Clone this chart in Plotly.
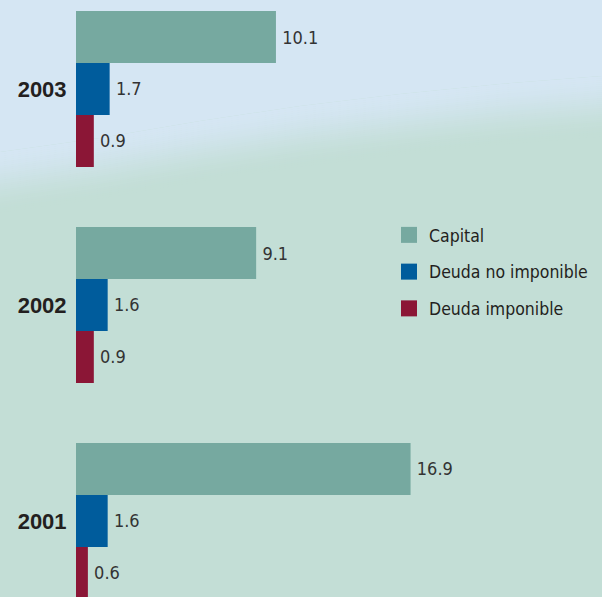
import plotly.graph_objects as go

# ---- data ----
years = ["2001", "2002", "2003"]
capital = [16.9, 9.1, 10.1]
deuda_no_imponible = [1.6, 1.6, 1.7]
deuda_imponible = [0.6, 0.9, 0.9]
series_names = ["Capital", "Deuda no imponible", "Deuda imponible"]
series_colors = ["#76a9a0", "#005c9c", "#8b1636"]

W, H = 602, 597
NARROW = "DejaVu Sans Condensed, Liberation Sans Narrow, Arial Narrow, sans-serif"

fig = go.Figure()
# bottom-to-top within each group: Deuda imponible, Deuda no imponible, Capital
for vals, name, col in [
    (deuda_imponible, series_names[2], series_colors[2]),
    (deuda_no_imponible, series_names[1], series_colors[1]),
    (capital, series_names[0], series_colors[0]),
]:
    fig.add_trace(go.Bar(
        y=years, x=vals, name=name, orientation="h",
        marker=dict(color=col, line=dict(width=0)),
        text=[f"\u2009{v:.1f}" for v in vals], textposition="outside",
        textfont=dict(family=NARROW, size=18, color="#333333"),
        cliponaxis=False, showlegend=False,
    ))

# legend entries (larger square swatches)
for rank, (name, col) in enumerate(zip(series_names, series_colors), start=1):
    fig.add_trace(go.Scatter(
        x=[None], y=[None], mode="markers", name=name, legendgroup=name, legendrank=rank,
        marker=dict(symbol="square", size=16, color=col, line=dict(width=0)),
        hoverinfo="skip",
    ))

# ---- background (decorative gradient, in pixel -> paper coords) ----
def px(x, y):
    return x / W, 1 - y / H

blue = (213, 230, 243)
green = (195, 222, 214)
cx = [0, 100, 200, 300, 400, 500, 602]
cy = [182, 168, 151, 136, 124, 114, 106]
half = 30
nb = 30
shapes = []
pts = [px(0, 0), px(W, 0)] + [px(x, y - half) for x, y in zip(cx[::-1], cy[::-1])]
path = "M " + " L ".join(f"{a:.5f},{b:.5f}" for a, b in pts) + " Z"
shapes.append(dict(type="path", path=path, xref="paper", yref="paper",
                   fillcolor=f"rgb{blue}", line=dict(width=0), layer="below"))
for i in range(nb):
    d0 = -half + 2 * half * i / nb
    d1 = -half + 2 * half * (i + 1) / nb + 0.6
    t = (i + 0.5) / nb
    t = t * t * (3 - 2 * t)
    c = tuple(round(b + (g - b) * t) for b, g in zip(blue, green))
    top = [px(x, y + d0) for x, y in zip(cx, cy)]
    bot = [px(x, y + d1) for x, y in zip(cx[::-1], cy[::-1])]
    pts = top + bot
    path = "M " + " L ".join(f"{a:.5f},{b:.5f}" for a, b in pts) + " Z"
    shapes.append(dict(type="path", path=path, xref="paper", yref="paper",
                       fillcolor=f"rgb{c}", line=dict(width=0), layer="below"))

fig.update_layout(
    width=W, height=H,
    margin=dict(l=0, r=0, t=0, b=0, pad=0, autoexpand=False),
    paper_bgcolor=f"rgb{green}", plot_bgcolor="rgba(0,0,0,0)",
    barmode="group", bargap=0.278, bargroupgap=0,
    xaxis=dict(domain=[76 / W, 1], range=[0, 26.57], showticklabels=False, showgrid=False,
               zeroline=False, showline=False, ticks="", fixedrange=True),
    yaxis=dict(type="category", categoryorder="array", categoryarray=years,
               range=[-0.352, 2.412], showticklabels=True, showgrid=False,
               zeroline=False, showline=False, ticks="outside", ticklen=4,
               tickcolor="rgba(0,0,0,0)", automargin=False, fixedrange=True,
               tickfont=dict(family="Liberation Sans, Arial, sans-serif", size=22,
                             color="#231f20", weight="bold")),
    shapes=shapes,
    legend=dict(x=389 / W, y=1 - 217 / H, xanchor="left", yanchor="top",
                bgcolor="rgba(0,0,0,0)", traceorder="grouped", tracegroupgap=11,
                itemsizing="trace",
                font=dict(family=NARROW, size=17.5, color="#231f20")),
    showlegend=True,
)
fig.write_html("out.html", config={"displayModeBar": False},
               post_script="document.body.style.margin='0';")
